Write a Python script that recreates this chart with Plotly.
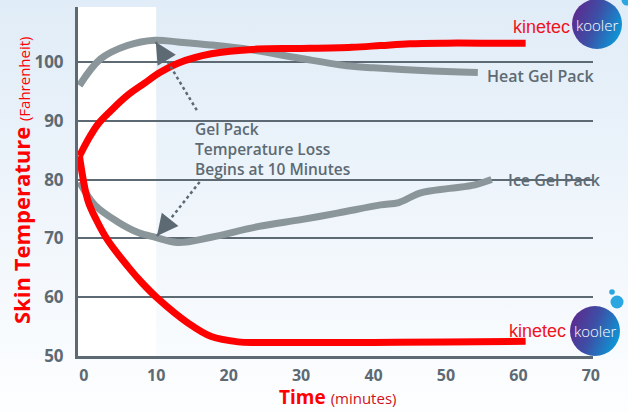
import base64
import plotly.graph_objects as go

# ---------------- data ----------------
heat_red_time = [-0.6, 0.55, 2, 3.8, 6, 8.4, 10.5, 13, 17.6, 24, 30, 37, 41, 45, 50, 55, 61]
heat_red_temp = [84.0, 86.7, 89.5, 91.8, 94.3, 96.4, 98.2, 99.8, 101.4, 102.2, 102.3, 102.5, 102.8, 103.1, 103.2, 103.2, 103.2]

cold_red_time = [-0.6, 0.55, 1.8, 3.3, 6.1, 8, 10.2, 14.4, 17.6, 21.3, 24, 30, 40, 50, 61]
cold_red_temp = [84.0, 76.5, 73.0, 69.7, 65.2, 62.5, 59.8, 55.6, 53.3, 52.4, 52.3, 52.3, 52.3, 52.4, 52.5]

heat_gel_time = [-0.6, 2.3, 6, 9.8, 13, 17.5, 23, 30, 36.7, 40, 46, 52, 54.4]
heat_gel_temp = [96.0, 100.5, 102.8, 103.7, 103.4, 102.9, 102.1, 100.6, 99.3, 99.0, 98.6, 98.3, 98.2]

ice_gel_time = [-0.6, 1.5, 4.7, 7.5, 9.8, 13, 17.6, 24, 30, 35, 41, 43.5, 46.4, 50.5, 54, 56.3]
ice_gel_temp = [79.6, 75.7, 72.8, 71.0, 70.2, 69.3, 70.2, 72.0, 73.2, 74.3, 75.7, 76.1, 77.7, 78.5, 79.1, 80.0]

x_ticks = [0, 10, 20, 30, 40, 50, 60, 70]
y_ticks = [50, 60, 70, 80, 90, 100]

series_labels = ["Heat Gel Pack", "Ice Gel Pack"]
note_text = "Gel Pack<br>Temperature Loss<br>Begins at 10 Minutes"
arrow_tips = [(9.94, 103.4), (10.1, 70.4)]
arrow_tails = [(15.6, 91.8), (16.0, 79.6)]

# ---------------- layout helpers ----------------
W, H = 628, 412
L, R, T, B = 78, 593, 7, 356
XR = [-0.8, 70.3]
YR = [50, 109.35]


def px(xp):
    return (xp - L) / (R - L)


def py(yp):
    return (B - yp) / (B - T)


def dx(xp):
    return XR[0] + (xp - L) / (R - L) * (XR[1] - XR[0])


def dy(yp):
    return YR[0] + (B - yp) / (B - T) * (YR[1] - YR[0])


def uri(svg):
    return "data:image/svg+xml;base64," + base64.b64encode(svg.encode()).decode()


RED = "#ff0000"
GRAY_LINE = "#8b969b"
DARK = "#5d6a73"
FONT = "Open Sans"

fig = go.Figure()

for xs, ys, col in [(heat_gel_time, heat_gel_temp, GRAY_LINE), (ice_gel_time, ice_gel_temp, GRAY_LINE),
                    (heat_red_time, heat_red_temp, RED), (cold_red_time, cold_red_temp, RED)]:
    fig.add_trace(go.Scatter(x=xs, y=ys, mode="lines", cliponaxis=True,
                             line=dict(color=col, width=7, shape="spline", smoothing=1),
                             hoverinfo="skip"))

# background gradient
bg_svg = ('<svg xmlns="http://www.w3.org/2000/svg" width="628" height="412" viewBox="0 0 628 412" preserveAspectRatio="none">'
          '<defs><linearGradient id="g" x1="0" y1="0" x2="0" y2="1">'
          '<stop offset="0" stop-color="#e0ecf7"/><stop offset="1" stop-color="#fdfeff"/></linearGradient></defs>'
          '<rect width="628" height="412" fill="url(#g)"/></svg>')


def logo_svg(w, h, cx, cy, r, dots):
    s = (f'<svg xmlns="http://www.w3.org/2000/svg" width="{w}" height="{h}" viewBox="0 0 {w} {h}">'
         '<defs><linearGradient id="c" x1="0" y1="0.3" x2="1" y2="0.7">'
         '<stop offset="0" stop-color="#5d2a8e"/><stop offset="0.45" stop-color="#3d4fa6"/>'
         '<stop offset="1" stop-color="#0a9bd9"/></linearGradient></defs>'
         f'<circle cx="{cx}" cy="{cy}" r="{r}" fill="url(#c)"/>')
    for (ddx, ddy, dr) in dots:
        s += f'<circle cx="{ddx}" cy="{ddy}" r="{dr}" fill="#2aa7e0"/>'
    return s + '</svg>'


images = [
    dict(source=uri(bg_svg), xref="paper", yref="paper", x=px(0), y=py(0),
         sizex=W / (R - L), sizey=H / (B - T), sizing="stretch", layer="below",
         xanchor="left", yanchor="top"),
    dict(source=uri(logo_svg(70, 60, 32, 32, 25, [(62, 8, 5.5)])), xref="paper", yref="paper",
         x=px(565), y=py(-8), sizex=70 / (R - L), sizey=60 / (B - T), sizing="stretch",
         layer="above", xanchor="left", yanchor="top"),
    dict(source=uri(logo_svg(70, 76, 33, 47, 25, [(55, 18, 6.5), (50, 8, 2.8)])), xref="paper", yref="paper",
         x=px(562), y=py(284), sizex=70 / (R - L), sizey=76 / (B - T), sizing="stretch",
         layer="above", xanchor="left", yanchor="top"),
]

shapes = [
    dict(type="rect", xref="x", yref="paper", x0=XR[0], x1=10, y0=0, y1=1,
         fillcolor="white", line=dict(width=0), layer="below"),
]
for (tx, ty), (sx, sy) in zip(arrow_tips, arrow_tails):
    shapes.append(dict(type="line", xref="x", yref="y", x0=sx, y0=sy, x1=tx, y1=ty,
                       line=dict(color=DARK, width=2.5, dash="dot"), layer="above"))

annotations = []
for (tx, ty), (sx, sy) in zip(arrow_tips, arrow_tails):
    dxp = (sx - tx) * (R - L) / (XR[1] - XR[0])
    dyp = -(sy - ty) * (B - T) / (YR[1] - YR[0])
    n = (dxp ** 2 + dyp ** 2) ** 0.5
    annotations.append(dict(x=tx, y=ty, xref="x", yref="y", ax=dxp / n * 15, ay=dyp / n * 15,
                            axref="pixel", ayref="pixel", showarrow=True, arrowhead=2,
                            arrowsize=1.7, arrowwidth=2.5, arrowcolor=DARK, text=""))

annotations += [
    dict(x=dx(193), y=dy(148.5), xref="x", yref="y", text=note_text, showarrow=False,
         xanchor="left", yanchor="middle", align="left",
         font=dict(family=FONT, size=15.5, color=DARK, weight=600)),
    dict(x=dx(485), y=dy(76), xref="x", yref="y", text=series_labels[0], showarrow=False,
         xanchor="left", yanchor="middle", font=dict(family=FONT, size=16, color=DARK, weight=600)),
    dict(x=dx(506), y=dy(180), xref="x", yref="y", text=series_labels[1], showarrow=False,
         xanchor="left", yanchor="middle", font=dict(family=FONT, size=16, color=DARK, weight=600)),
    dict(x=px(21), y=py(180), xref="paper", yref="paper", textangle=-90, showarrow=False,
         text="<b>Skin Temperature</b> <span style='font-size:15px'>(Fahrenheit)</span>",
         xanchor="center", yanchor="middle", font=dict(family=FONT, size=22, color=RED)),
    dict(x=px(337), y=py(397), xref="paper", yref="paper", showarrow=False,
         text="<b>Time</b> <span style='font-size:15px;color:#d0101a'>(minutes)</span>",
         xanchor="center", yanchor="middle", font=dict(family=FONT, size=19, color=RED)),
    # logos text
    dict(x=px(572), y=py(27), xref="paper", yref="paper", showarrow=False, text="kinetec",
         xanchor="right", yanchor="middle", font=dict(family="Liberation Sans", size=18, color="#f0141e")),
    dict(x=px(597), y=py(25), xref="paper", yref="paper", showarrow=False, text="kooler",
         xanchor="center", yanchor="middle", font=dict(family="Open Sans", size=15, color="white", weight=300)),
    dict(x=px(568), y=py(331), xref="paper", yref="paper", showarrow=False, text="kinetec",
         xanchor="right", yanchor="middle", font=dict(family="Liberation Sans", size=18, color="#f0141e")),
    dict(x=px(595), y=py(331), xref="paper", yref="paper", showarrow=False, text="kooler",
         xanchor="center", yanchor="middle", font=dict(family="Open Sans", size=15, color="white", weight=300)),
]

fig.update_layout(
    width=W, height=H,
    margin=dict(l=L, r=W - R, t=T, b=H - B),
    paper_bgcolor="white", plot_bgcolor="rgba(0,0,0,0)",
    showlegend=False,
    images=images, shapes=shapes, annotations=annotations,
    xaxis=dict(range=XR, tickvals=x_ticks, ticktext=[str(v) for v in x_ticks],
               showgrid=False, zeroline=False, showline=True, linecolor=DARK, linewidth=3,
               tickfont=dict(family=FONT, size=16, color=DARK, weight="bold"), ticks="",
               ticklabelstandoff=3, fixedrange=True),
    yaxis=dict(range=YR, tickvals=y_ticks, ticktext=[str(v) for v in y_ticks],
               showgrid=True, gridcolor=DARK, gridwidth=1.5, zeroline=False,
               showline=True, linecolor=DARK, linewidth=3,
               tickfont=dict(family=FONT, size=17, color=DARK, weight="bold"), ticks="",
               ticklabelstandoff=8, fixedrange=True),
)

fig.write_html("out.html", config={"displayModeBar": False},
               post_script="document.body.style.margin='0';document.body.style.overflow='hidden';")
